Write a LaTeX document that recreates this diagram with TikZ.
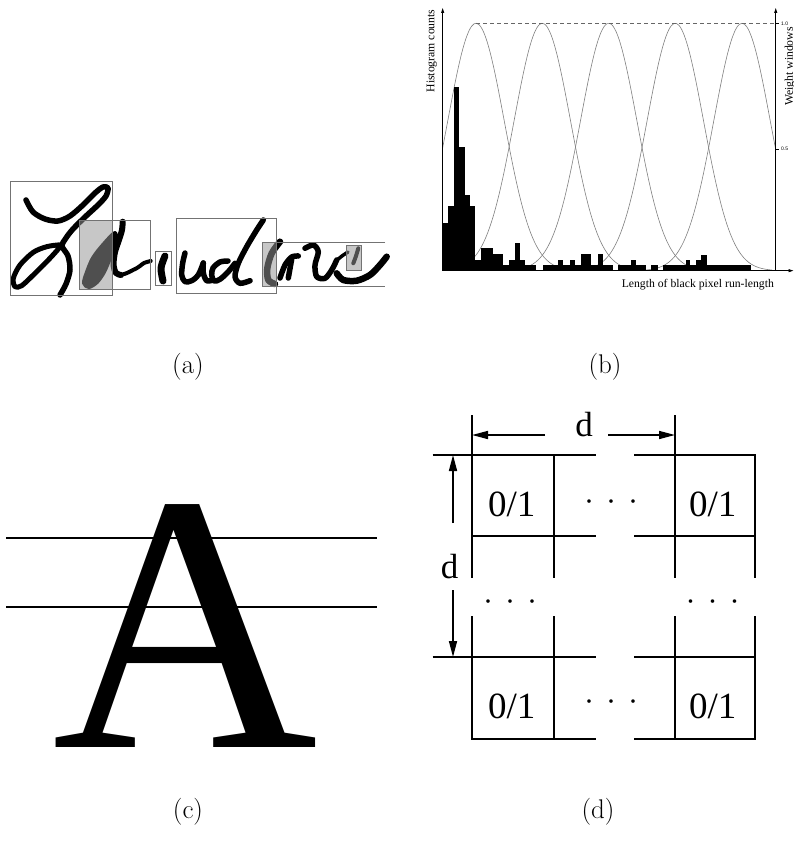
\documentclass[tikz,border=0pt]{standalone}
\usepackage{fontspec}
\newfontfamily\tms{Liberation Serif}
\newfontfamily\hlv{Liberation Sans}
\usetikzlibrary{arrows.meta}
\begin{document}
\begin{tikzpicture}[x=1pt,y=-1pt,
  box/.style={draw=black!55, line width=0.9pt},
  ink/.style={line width=5.5pt, line cap=round, line join=round},
  overlay/.style={fill=black!41, fill opacity=0.53},
  win/.style={draw=black!50, line width=0.6pt},
  axisline/.style={line width=0.8pt, -{Triangle[length=5pt,width=3pt]}},
  gridline/.style={line width=2.8pt, line cap=rect},
  extline/.style={line width=1.4pt},
  dimline/.style={line width=1.6pt, -{Triangle[length=16pt,width=8pt]}},
  captxt/.style={font=\fontsize{27}{32}\selectfont, inner sep=0pt},
  smalltxt/.style={font=\tms\fontsize{11.7}{14}\selectfont, inner sep=0pt},
  ticktxt/.style={font=\hlv\fontsize{5}{6}\selectfont, inner sep=0pt, anchor=west},
  celltxt/.style={font=\tms\fontsize{37}{40}\selectfont, inner sep=0pt, anchor=base},
  dottxt/.style={font=\tms\fontsize{30}{30}\selectfont, inner sep=0pt, anchor=center},
  dtxt/.style={font=\tms\fontsize{35}{40}\selectfont, inner sep=0pt}
]
\fill[white] (0,0) rectangle (794,848);
\useasboundingbox (0,0) rectangle (794,848);

% ---------------- (a) handwriting ----------------
\draw[ink] plot[smooth] coordinates {(26,200) (33,212) (45,219) (58,221) (70,216) (83,205) (95,193) (103,187) (108,188) (106,196) (98,205) (85,217) (73,229) (66,238) (62,246) (68,256) (70,270) (66,284) (60,295)};
\draw[ink, line width=5pt] plot[smooth cycle] coordinates {(60,245) (46.7,246.7) (33.3,252.3) (20,265) (13.3,278.3) (15,286.7) (21.7,285.7) (33.3,275) (46.7,261.7) (58.3,249)};
\draw[ink, line width=4pt, fill=black] plot[smooth cycle] coordinates {(115,233) (103,245) (93,258) (87,272) (84,283) (89,287) (97,282) (104,272) (110,258) (115,245)};
\draw[ink, line width=6pt] plot[smooth] coordinates {(122.7,221.7) (122,230) (119,240) (115,252) (113.5,265) (116,273) (121,275)};
\draw[ink, line width=4pt] plot[smooth] coordinates {(121,275) (127,273) (133,270) (137,268) (140,266) (144,263) (150.7,261)};
\draw[ink, line width=7pt] plot[smooth] coordinates {(165,256) (161,268) (163,281)};
\draw[ink] plot[smooth] coordinates {(185,253) (182.7,263) (181.7,275) (185,281.7) (191.7,280.7) (198.3,275) (203.3,263)};
\draw[ink] plot[smooth] coordinates {(203.3,263) (203.3,273) (206.7,280.7) (213.3,280)};
\draw[ink] plot[smooth] coordinates {(228,261) (220,262) (213,268) (211.7,275) (214,281) (220,279.3) (228.3,271.7) (235,263.3)};
\draw[ink] plot[smooth] coordinates {(263.3,220) (256.7,230) (246.7,246.7) (238.3,263.3) (235,276.7) (240,283.3) (250,280.7)};
\draw[ink, line width=6.5pt] plot[smooth] coordinates {(280,241.7) (271.7,253.3) (267.3,268.3) (268.3,280) (275,284)};
\draw[ink] plot[smooth] coordinates {(280,278) (285,265) (291.7,257) (298.3,256)};
\draw[ink] plot[smooth] coordinates {(291.7,259) (288.3,278)};
\draw[ink] plot[smooth] coordinates {(305,248.3) (313.3,245) (318.3,251.7) (315,265) (316.7,276.7) (325,278.3) (331.7,270) (336.7,260)};
\draw[ink, line width=3.5pt] plot[smooth] coordinates {(336,261) (342,256) (348,252)};
\draw[ink, line width=6.5pt] plot[smooth] coordinates {(336.7,273.3) (343.3,280) (356.7,280.7) (370,275) (380,265) (386.7,256.7)};
\draw[ink, line width=4pt] plot[smooth] coordinates {(358.3,248.3) (356,256) (353.3,263.3)};
% shaded overlaps
\fill[overlay] (79,220.7) rectangle (112.7,289.5);
\fill[overlay] (262.3,242.3) rectangle (276.7,286.5);
\fill[overlay] (346.7,245.5) rectangle (361.7,270);
% boxes
\draw[box] (10.7,181.7) rectangle (112.7,295);
\draw[box] (79,220.7) rectangle (150.7,289.5);
\draw[box] (155,251.5) rectangle (171.7,285);
\draw[box] (176.7,218.3) rectangle (276.7,293.5);
\draw[box] (385,242.3) -- (262.3,242.3) -- (262.3,286.5) -- (385,286.5);
\draw[box] (346.7,245.5) rectangle (361.7,270);
\node[captxt] (capa) at (188,367) {(a)};

% ---------------- (b) histogram ----------------
\draw[win] plot[domain=442.7:609, samples=70, smooth] (\x, {270.7-247.4*exp(-0.693147*((\x-476)/33.2)^2)});
\draw[win] plot[domain=442.7:675.3, samples=90, smooth] (\x, {270.7-247.4*exp(-0.693147*((\x-542.3)/33.2)^2)});
\draw[win] plot[domain=475.7:741.7, samples=90, smooth] (\x, {270.7-247.4*exp(-0.693147*((\x-608.7)/33.2)^2)});
\draw[win] plot[domain=542.3:772, samples=90, smooth] (\x, {270.7-247.4*exp(-0.693147*((\x-675.3)/33.2)^2)});
\draw[win] plot[domain=609:775.7, samples=70, smooth] (\x, {270.7-247.4*exp(-0.693147*((\x-742)/33.2)^2)});
\draw[black!60, line width=0.7pt, dash pattern=on 4pt off 3pt] (476,23.3) -- (775.7,23.3);
\foreach \a/\b/\t in {442.7/448.3/222.7, 448.3/453.7/205.7, 453.7/459.3/87.3, 459.3/465/146.7,
  465/470.3/195, 470.3/475.3/205.7, 475.3/481/260, 481/492.7/248.3, 492.7/503.3/254.3,
  503.3/508.7/265, 508.7/515/260, 515/520.3/242.7, 520.3/525.3/260, 525.3/536/265,
  542.7/558.3/265, 558.3/563.3/260, 563.3/570/265, 570/575.3/260, 575.3/581/265,
  581/591/254, 591/597.7/265, 597.7/602.7/254.3, 602.7/612.7/265, 618.3/630.7/265,
  630.7/635.7/260, 635.7/645.7/265, 651/657.7/265, 663.3/685.7/265, 685.7/690/260,
  690/696/265, 696/701/260, 701/706.7/255, 706.7/750.7/265}
  \fill (\a,270.7) rectangle (\b,\t);
\draw[axisline] (442.7,270.7) -- (442.7,8);
\draw[axisline] (775.7,270.7) -- (775.7,8);
\draw[axisline] (442.7,270.7) -- (793.5,270.7);
\draw[line width=0.5pt] (775.7,23.3) -- (779,23.3) (775.7,149) -- (779,149);
\node[ticktxt] (t10) at (781,23.3) {1.0};
\node[ticktxt] (t05) at (781,149) {0.5};
\node[smalltxt, rotate=90] (hc) at (431.7,51) {Histogram counts};
\node[smalltxt, rotate=90] (ww) at (790,66.5) {Weight windows};
\node[smalltxt, anchor=base] (xl) at (697.8,287) {Length of black pixel run-length};
\node[captxt] (capb) at (605,367) {(b)};

% ---------------- (c) letter A ----------------
\draw[line width=2pt] (6,538.3) -- (376.7,538.3);
\draw[line width=2pt] (6,607.3) -- (376.7,607.3);
\node[font=\tms\fontsize{368}{368}\selectfont, inner sep=0pt, anchor=base] (bigA) at (185.8,747.7) {A};
\node[captxt] (capc) at (188,812) {(c)};

% ---------------- (d) grid ----------------
\foreach \y in {455,536,657,739} {
  \draw[gridline] (472,\y) -- (595,\y);
  \draw[gridline] (635,\y) -- (755,\y);
}
\foreach \x in {472,554,675,755} {
  \draw[gridline] (\x,455) -- (\x,577);
  \draw[gridline] (\x,617) -- (\x,739);
}
\draw[extline] (472,415) -- (472,455);
\draw[extline] (675,415) -- (675,455);
\draw[extline] (432.7,455) -- (472,455);
\draw[extline] (432.7,657) -- (472,657);
\draw[dimline] (545,435) -- (472,435);
\draw[dimline] (608,435) -- (675,435);
\draw[dimline] (453,523) -- (453,455);
\draw[dimline] (453,590) -- (453,657);
\node[dtxt] (dtop) at (584,425) {d};
\node[dtxt] (dleft) at (449.7,567) {d};
\node[celltxt] (c11) at (511.7,516.7) {0/1};
\node[celltxt] (c12) at (712.7,516.7) {0/1};
\node[celltxt] (c21) at (511.7,718.3) {0/1};
\node[celltxt] (c22) at (712.7,718.3) {0/1};
\node[dottxt] (d1) at (611.2,506) {·\kern12pt·\kern12pt·};
\node[dottxt] (d2) at (510,606) {·\kern12pt·\kern12pt·};
\node[dottxt] (d3) at (712.5,606) {·\kern12pt·\kern12pt·};
\node[dottxt] (d4) at (611.2,706) {·\kern12pt·\kern12pt·};
\node[captxt] (capd) at (598,812) {(d)};
\end{tikzpicture}
\end{document}
